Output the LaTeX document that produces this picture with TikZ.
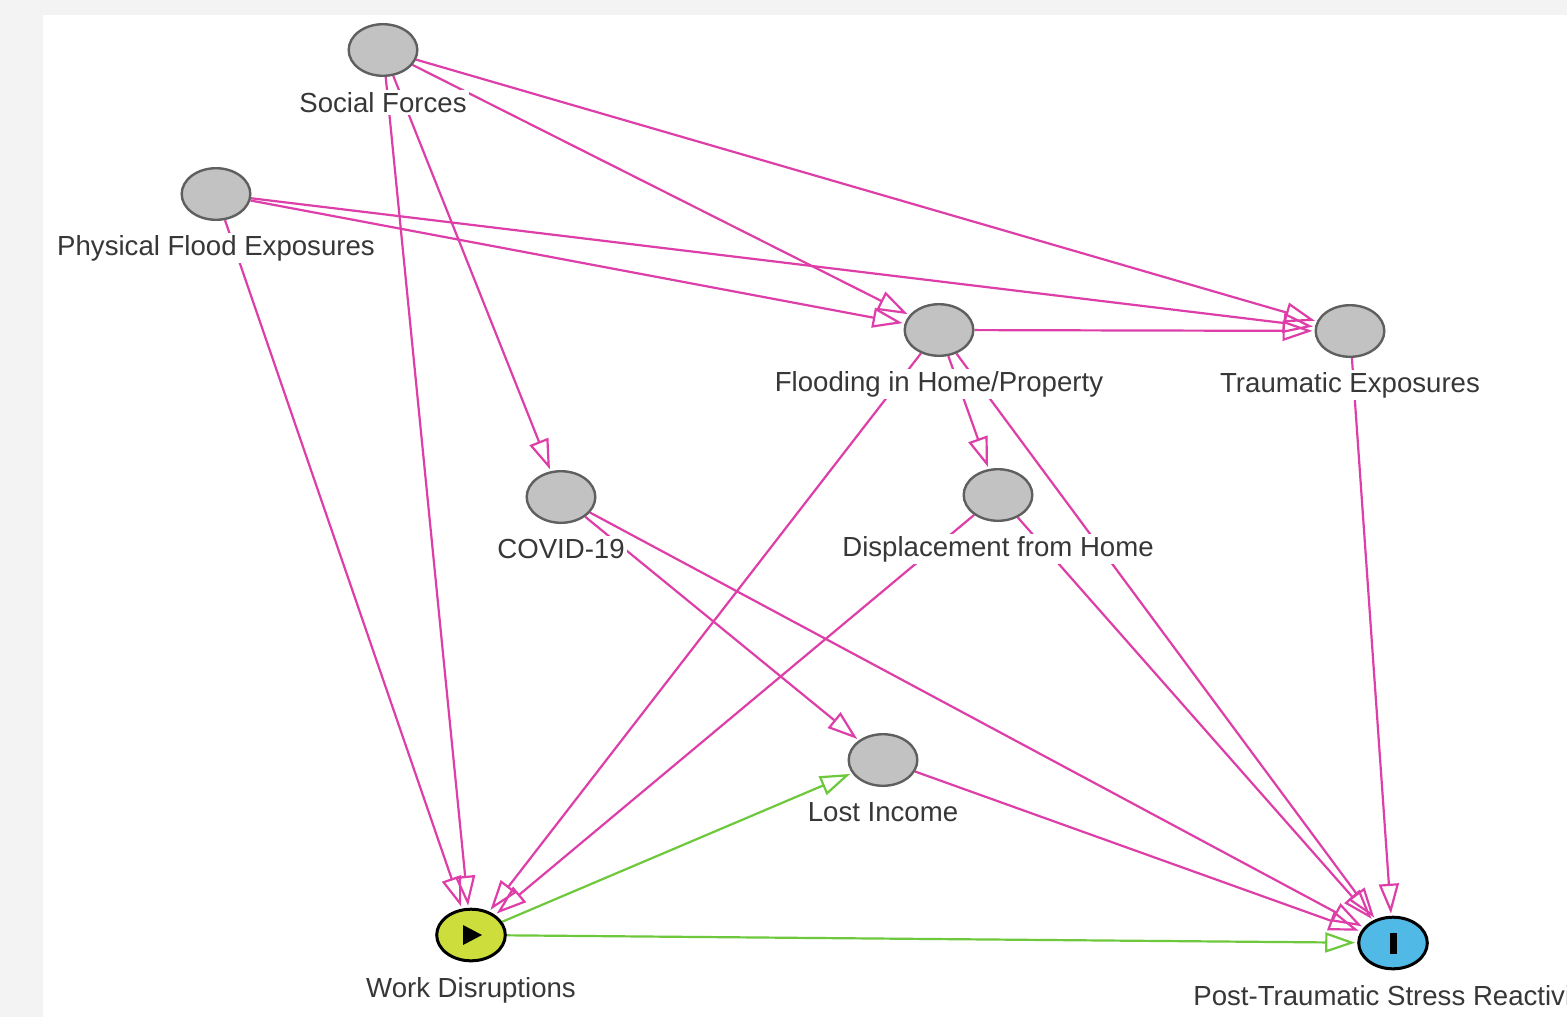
\documentclass[tikz,border=0pt]{standalone}
\usepackage{fontspec}
\setmainfont{Liberation Sans}
\usetikzlibrary{shapes.geometric,arrows.meta}
\definecolor{pinkE}{RGB}{222,62,168}
\definecolor{greenE}{RGB}{110,200,60}
\definecolor{nodegray}{RGB}{194,194,194}
\definecolor{nodeborder}{RGB}{95,95,95}
\definecolor{yel}{RGB}{205,222,60}
\definecolor{blu}{RGB}{80,185,230}
\definecolor{txt}{RGB}{55,55,55}
\definecolor{outerbg}{RGB}{243,243,243}
\pgfdeclarelayer{back}
\pgfdeclarelayer{edges}
\pgfsetlayers{back,edges,main}
\begin{document}
\begin{tikzpicture}[x=0.5pt,y=-0.5pt,
  var/.style={ellipse, draw=nodeborder, fill=nodegray, line width=1.2pt,
    minimum width=34.3pt, minimum height=25.8pt, inner sep=0pt},
  expo/.style={var, draw=black, fill=yel, line width=1.5pt},
  outc/.style={var, draw=black, fill=blu, line width=1.5pt},
  lab/.style={fill=white, text=txt, font=\fontsize{13.8}{16}\selectfont,
    inner sep=1.2pt, anchor=base},
  causal/.style={draw=pinkE, line width=1.1pt, shorten >=1pt,
    -{Triangle[open,length=15pt,width=10pt]}},
  causalg/.style={causal, draw=greenE}
]
\useasboundingbox (0,0) rectangle (1567,1017);
\clip (0,0) rectangle (1567,1017);

\begin{pgfonlayer}{back}
  \fill[outerbg] (0,0) rectangle (1567,1017);
  \fill[white] (43,15) rectangle (1567,1017);
\end{pgfonlayer}

% variables
\node[var] (sf) at (383,50) {};
\node[lab] (sfl) at (383,112) {Social Forces};
\node[var] (pf) at (216,194) {};
\node[lab] (pfl) at (216,255) {Physical Flood Exposures};
\node[var] (fh) at (939,330) {};
\node[lab] (fhl) at (939,391) {Flooding in Home/Property};
\node[var] (te) at (1350,331) {};
\node[lab] (tel) at (1350,392) {Traumatic Exposures};
\node[var] (cv) at (561,497) {};
\node[lab] (cvl) at (561,558) {COVID-19};
\node[var] (dh) at (998,495) {};
\node[lab] (dhl) at (998,556) {Displacement from Home};
\node[var] (li) at (883,760) {};
\node[lab] (lil) at (883,821) {Lost Income};
\node[expo] (wd) at (471,935) {};
\node[lab] (wdl) at (471,997) {Work Disruptions};
\node[outc] (pt) at (1393,943) {};
\node[lab] (ptl) at (1393,1005) {Post-Traumatic Stress Reactivity};

% glyphs in exposure / outcome
\fill[black] (463,925) -- (482,935) -- (463,945) -- cycle;
\fill[black] (1389.5,933) rectangle (1396.5,954);

\begin{pgfonlayer}{edges}
  \draw[causal] (sf) -- (te);
  \draw[causal] (sf) -- (fh);
  \draw[causal] (sf) -- (cv);
  \draw[causal] (sf) -- (wd);
  \draw[causal] (pf) -- (te);
  \draw[causal] (pf) -- (fh);
  \draw[causal] (pf) -- (wd);
  \draw[causal] (fh) -- (te);
  \draw[causal] (fh) -- (dh);
  \draw[causal] (fh) -- (wd);
  \draw[causal] (fh) -- (pt);
  \draw[causal] (te) -- (pt);
  \draw[causal] (cv) -- (li);
  \draw[causal] (cv) -- (pt);
  \draw[causal] (dh) -- (wd);
  \draw[causal] (dh) -- (pt);
  \draw[causal] (li) -- (pt);
  \draw[causalg] (wd) -- (li);
  \draw[causalg] (wd) -- (pt);
\end{pgfonlayer}
\end{tikzpicture}
\end{document}
